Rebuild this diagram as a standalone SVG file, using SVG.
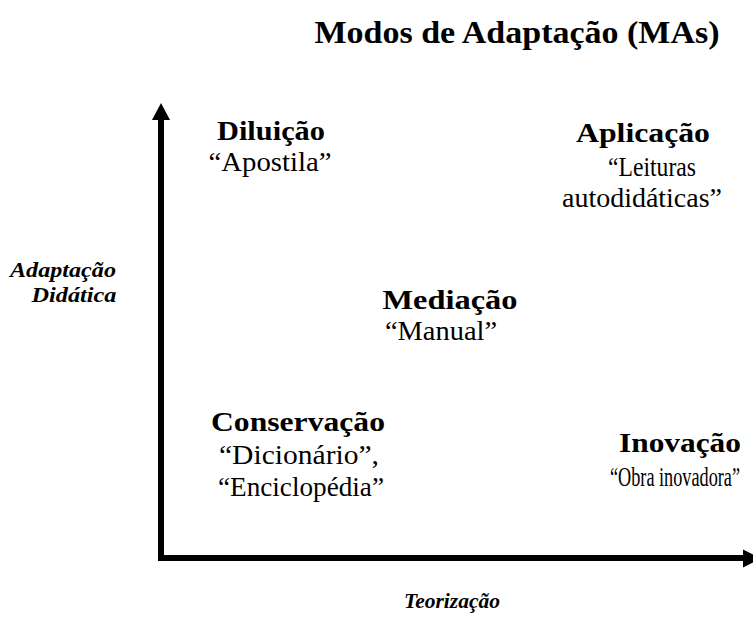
<svg xmlns="http://www.w3.org/2000/svg" width="753" height="617" viewBox="0 0 753 617" font-family="Liberation Serif, serif">
<style>
text{fill:#000;text-anchor:middle}
.t{font-weight:bold;font-size:31px}
.h{font-weight:bold;font-size:28px}
.q{font-size:27px}
.ax{font-weight:bold;font-style:italic;font-size:22px}
.ax2{font-weight:bold;font-style:italic;font-size:21px}
.axis{stroke:#000;stroke-width:6;fill:none}
.end{text-anchor:end}
</style>
<rect width="753" height="617" fill="#fff"/>
<text class="t" x="517" y="43" textLength="405" lengthAdjust="spacingAndGlyphs">Modos de Adaptação (MAs)</text>
<g id="connectors">
<path class="axis" d="M161,118 V561 M158,558 H745"/>
<polygon points="161,103 152,120 170,120" fill="#000"/>
<polygon points="761,558.5 743,549.5 743,567.5" fill="#000"/>
</g>
<g id="axis-y-label">
<text class="ax" x="63" y="277" textLength="106" lengthAdjust="spacingAndGlyphs">Adaptação</text>
<text class="ax" x="74" y="302" textLength="85" lengthAdjust="spacingAndGlyphs">Didática</text>
</g>
<g id="axis-x-label">
<text class="ax2" x="452" y="608" textLength="96" lengthAdjust="spacingAndGlyphs">Teorização</text>
</g>
<g id="diluicao">
<text class="h" x="271" y="140" textLength="108" lengthAdjust="spacingAndGlyphs">Diluição</text>
<text class="q" x="270" y="171" textLength="123" lengthAdjust="spacingAndGlyphs">“Apostila”</text>
</g>
<g id="aplicacao">
<text class="h" x="643" y="142" textLength="134" lengthAdjust="spacingAndGlyphs">Aplicação</text>
<text class="q" x="652" y="176" textLength="88" lengthAdjust="spacingAndGlyphs">“Leituras</text>
<text class="q" x="642" y="207" textLength="160" lengthAdjust="spacingAndGlyphs">autodidáticas”</text>
</g>
<g id="mediacao">
<text class="h" x="450" y="309" textLength="135" lengthAdjust="spacingAndGlyphs">Mediação</text>
<text class="q" x="441" y="340" textLength="112" lengthAdjust="spacingAndGlyphs">“Manual”</text>
</g>
<g id="conservacao">
<text class="h" x="298" y="431" textLength="174" lengthAdjust="spacingAndGlyphs">Conservação</text>
<text class="q" x="299" y="464" textLength="160" lengthAdjust="spacingAndGlyphs">“Dicionário”,</text>
<text class="q" x="301" y="496" textLength="166" lengthAdjust="spacingAndGlyphs">“Enciclopédia”</text>
</g>
<g id="inovacao">
<text class="h end" x="741" y="452" textLength="122" lengthAdjust="spacingAndGlyphs">Inovação</text>
<text class="q end" x="740" y="486" textLength="130" lengthAdjust="spacingAndGlyphs">“Obra inovadora”</text>
</g>
</svg>
